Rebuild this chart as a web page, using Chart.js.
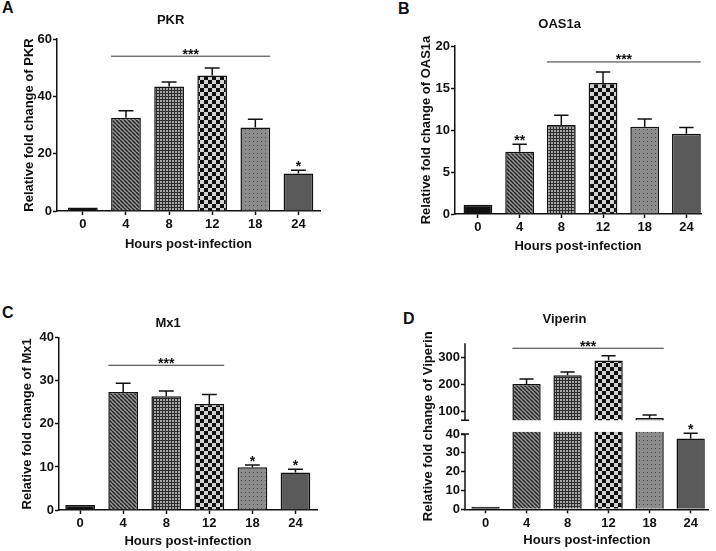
<!DOCTYPE html>
<html>
<head>
<meta charset="utf-8">
<script src="https://cdn.jsdelivr.net/npm/chart.js@4.4.0/dist/chart.umd.min.js"></script>
<style>
  body { margin: 0; background: #fff; width: 716px; height: 551px; position: relative; overflow: hidden;
         font-family: "Liberation Sans", Arial, sans-serif; }
  canvas { position: absolute; }
  .tag { position: absolute; font-weight: bold; font-size: 16px; line-height: 16px; color: #111; }
</style>
</head>
<body>
<div class="tag" style="left:2px;top:0px">A</div>
<div class="tag" style="left:398px;top:1px">B</div>
<div class="tag" style="left:2px;top:305px">C</div>
<div class="tag" style="left:403px;top:311px">D</div>
<canvas id="cA" width="358" height="275" style="left:0;top:0"></canvas>
<canvas id="cB" width="358" height="275" style="left:358px;top:0"></canvas>
<canvas id="cC" width="358" height="276" style="left:0;top:275px"></canvas>
<canvas id="cD" width="358" height="276" style="left:358px;top:275px"></canvas>
<script>
// data
const hours = ['0', '4', '8', '12', '18', '24'];

const pkr = [1.2, 32.5, 43.4, 47.3, 29.1, 13.1];
const pkrErr = [0, 2.5, 1.6, 2.6, 2.9, 1.1];

const oas1a = [1.1, 7.4, 10.6, 15.6, 10.4, 9.55];
const oas1aErr = [0, 0.9, 1.15, 1.3, 0.9, 0.75];

const mx1 = [1.15, 27.4, 26.4, 24.6, 9.9, 8.7];
const mx1Err = [0, 2.0, 1.2, 2.2, 0.55, 0.75];

const viperin = [1.3, 202, 235, 289, 76.5, 37.7];
const viperinErr = [0, 19, 12, 18, 11, 2.7];

// significance marks: bar line from..to at a value, and single stars above bars
const pkrSig = { from: 1, to: 4, at: 54, text: '***' };
const pkrStars = [[5, '*']];
const oas1aSig = { from: 2, to: 5, at: 18.1, text: '***' };
const oas1aStars = [[1, '**']];
const mx1Sig = { from: 1, to: 3, at: 33.6, text: '***' };
const mx1Stars = [[4, '*'], [5, '*']];
const viperinSig = { from: 1, to: 4, at: 334.6, text: '***' };
const viperinStars = [[5, '*']];

const FONT = "'Liberation Sans', Arial, sans-serif";
const INK = '#111';
Chart.defaults.font.family = FONT;
Chart.defaults.color = INK;

// bar fills
function makePattern(kind) {
    const c = document.createElement('canvas');
    const g = c.getContext('2d');
    if (kind === 'hatch') {
        c.width = c.height = 4;
        g.fillStyle = '#959595'; g.fillRect(0, 0, 4, 4);
        g.strokeStyle = '#262626'; g.lineWidth = 1.5;
        for (let k = -1; k <= 1; k++) {
            g.beginPath(); g.moveTo(0, k * 4); g.lineTo(4, 4 + k * 4); g.stroke();
        }
    } else if (kind === 'fine') {
        c.width = c.height = 3;
        g.fillStyle = '#a6a6a6'; g.fillRect(0, 0, 3, 3);
        g.fillStyle = '#2c2c2c'; g.fillRect(0, 0, 3, 1); g.fillRect(0, 0, 1, 3);
    } else if (kind === 'checker') {
        c.width = c.height = 8;
        g.fillStyle = '#d2d2d2'; g.fillRect(0, 0, 8, 8);
        g.fillStyle = '#111'; g.fillRect(0, 0, 4, 4); g.fillRect(4, 4, 4, 4);
    } else if (kind === 'dots') {
        c.width = c.height = 4;
        g.fillStyle = '#8c8c8c'; g.fillRect(0, 0, 4, 4);
        g.fillStyle = '#4a4a4a'; g.fillRect(1, 1, 1, 1);
    }
    return g.createPattern(c, 'repeat');
}
const fills = ['#111', makePattern('hatch'), makePattern('fine'), makePattern('checker'), makePattern('dots'), '#5a5a5a'];

function drawErrors(ctx, meta, yScale, vals, errs) {
    ctx.save();
    ctx.strokeStyle = INK; ctx.lineWidth = 1.5;
    meta.data.forEach((bar, i) => {
        if (!errs[i]) return;
        const w = bar.width * 0.5;
        const y0 = yScale.getPixelForValue(vals[i]);
        const y1 = yScale.getPixelForValue(vals[i] + errs[i]);
        ctx.beginPath();
        ctx.moveTo(bar.x, y0); ctx.lineTo(bar.x, y1);
        ctx.moveTo(bar.x - w / 2, y1); ctx.lineTo(bar.x + w / 2, y1);
        ctx.stroke();
    });
    ctx.restore();
}

function drawSig(ctx, meta, yScale, sig) {
    const a = meta.data[sig.from], b = meta.data[sig.to];
    const y = yScale.getPixelForValue(sig.at);
    ctx.save();
    ctx.strokeStyle = '#333'; ctx.lineWidth = 1;
    ctx.beginPath(); ctx.moveTo(a.x - a.width / 2, y); ctx.lineTo(b.x + b.width / 2, y); ctx.stroke();
    ctx.fillStyle = INK; ctx.font = 'bold 14px ' + FONT;
    ctx.textAlign = 'center'; ctx.textBaseline = 'alphabetic';
    ctx.fillText(sig.text, (a.x + b.x) / 2, y + 2.5);
    ctx.restore();
}

function drawStars(ctx, meta, yScale, vals, errs, stars) {
    ctx.save();
    ctx.fillStyle = INK; ctx.font = 'bold 14px ' + FONT;
    ctx.textAlign = 'center'; ctx.textBaseline = 'alphabetic';
    stars.forEach(([i, t]) => {
        ctx.fillText(t, meta.data[i].x, yScale.getPixelForValue(vals[i] + errs[i]) + 1);
    });
    ctx.restore();
}

const tickFont = { size: 13, weight: 'bold' };

function xScale(p, H) {
    return {
        type: 'linear', min: p.xMin, max: p.xMax, offset: false,
        afterFit: s => { s.height = H - p.bottom; },
        border: { display: true, color: INK, width: 1.5 },
        grid: { offset: false, drawOnChartArea: false, drawTicks: true, tickLength: 4, tickColor: INK, tickWidth: 1.5 },
        ticks: { stepSize: 1, includeBounds: false, autoSkip: false, padding: 2, font: tickFont, color: INK,
                 callback: v => hours[v] },
        title: { display: true, text: 'Hours post-infection', font: { size: 13, weight: 'bold' }, color: INK,
                 padding: { top: 0, bottom: H - p.xTitleY - 7.8 } }
    };
}

function commonOptions(p, W, H, title) {
    return {
        responsive: false,
        animation: false,
        layout: { padding: { left: p.yTitleX - 7.8, right: W - p.right, top: 0, bottom: 0 } },
        plugins: {
            legend: { display: false },
            tooltip: { enabled: false },
            title: { display: true, text: title, font: { size: 13, weight: 'bold' }, color: INK,
                     padding: { top: p.titleY - 7.8, bottom: p.top - p.titleY - 7.8 } }
        }
    };
}

function simplePanel(id, title, vals, errs, sig, stars, yMax, yStep, yTitle, p) {
    const cv = document.getElementById(id);
    const W = cv.width, H = cv.height;
    const opts = commonOptions(p, W, H, title);
    opts.scales = {
        x: xScale(p, H),
        y: {
            min: 0, max: yMax,
            afterFit: s => { s.width = p.axisX - (p.yTitleX - 7.8); },
            border: { display: true, color: INK, width: 1.5 },
            grid: { drawOnChartArea: false, drawTicks: true, tickLength: 4, tickColor: INK, tickWidth: 1.5 },
            ticks: { stepSize: yStep, autoSkip: false, padding: 1, font: tickFont, color: INK },
            title: { display: true, text: yTitle, font: { size: 13, weight: 'bold' }, color: INK,
                     padding: { top: 0, bottom: 0 } }
        }
    };
    return new Chart(cv, {
        type: 'bar',
        data: {
            datasets: [{
                data: vals.map((v, i) => ({ x: i, y: v })),
                backgroundColor: fills,
                borderColor: INK, borderWidth: 1.5,
                barPercentage: 0.69, categoryPercentage: 1
            }]
        },
        options: opts,
        plugins: [{
            id: 'marks',
            afterDatasetsDraw(chart) {
                const meta = chart.getDatasetMeta(0);
                const y = chart.scales.y;
                drawErrors(chart.ctx, meta, y, vals, errs);
                drawSig(chart.ctx, meta, y, sig);
                drawStars(chart.ctx, meta, y, vals, errs, stars);
            }
        }]
    });
}

simplePanel('cA', 'PKR', pkr, pkrErr, pkrSig, pkrStars, 60, 20, 'Relative fold change of PKR',
    { axisX: 57, top: 39, bottom: 211, right: 320, titleY: 20, yTitleX: 29, xTitleY: 244, xMin: -0.6, xMax: 5.5 });
simplePanel('cB', 'OAS1a', oas1a, oas1aErr, oas1aSig, oas1aStars, 20, 5, 'Relative fold change of OAS1a',
    { axisX: 97, top: 46, bottom: 214, right: 343, titleY: 24, yTitleX: 68, xTitleY: 246, xMin: -0.55, xMax: 5.35 });
simplePanel('cC', 'Mx1', mx1, mx1Err, mx1Sig, mx1Stars, 40, 10, 'Relative fold change of Mx1',
    { axisX: 59, top: 62.7, bottom: 235, right: 317, titleY: 48, yTitleX: 27, xTitleY: 266.7, xMin: -0.49, xMax: 5.5 });

// Viperin: broken y axis, two stacked scales
(function () {
    const p = { axisX: 107, top: 68.3, bottom: 234.3, right: 350.7, titleY: 44, yTitleX: 70, xTitleY: 265.7, xMin: -0.5, xMax: 5.44 };
    const lowMax = 41.2, lowTop = 40, highMin = 25, highMax = 353, breakAt = 68;
    const cv = document.getElementById('cD');
    const W = cv.width, H = cv.height;
    const opts = commonOptions(p, W, H, 'Viperin');
    const yCommon = {
        position: 'left', stack: 'v',
        afterFit: s => { s.width = p.axisX - (p.yTitleX - 7.8); },
        border: { display: false },
        grid: { drawOnChartArea: false, drawTicks: true, tickLength: 4, tickColor: INK, tickWidth: 1.5 },
        title: { display: false }
    };
    opts.scales = {
        x: xScale(p, H),
        yLow: Object.assign({}, yCommon, {
            min: 0, max: lowMax, stackWeight: 77.5,
            ticks: { stepSize: 10, includeBounds: false, autoSkip: false, padding: 1, font: tickFont, color: INK }
        }),
        yHigh: Object.assign({}, yCommon, {
            min: highMin, max: highMax, stackWeight: 88.5,
            ticks: { stepSize: 100, includeBounds: false, autoSkip: false, padding: 1, font: tickFont, color: INK }
        })
    };
    const ds = axis => ({
        data: viperin.map((v, i) => ({ x: i, y: v })),
        yAxisID: axis, grouped: false,
        backgroundColor: fills,
        borderColor: INK, borderWidth: 1.5,
        barPercentage: 0.69, categoryPercentage: 1
    });
    new Chart(cv, {
        type: 'bar',
        data: { datasets: [ds('yLow'), ds('yHigh')] },
        options: opts,
        plugins: [{
            id: 'broken',
            beforeDatasetDraw(chart, args) {
                const a = chart.chartArea, ctx = chart.ctx;
                const s = args.index === 0 ? chart.scales.yLow : chart.scales.yHigh;
                const bottom = args.index === 0 ? s.bottom : s.getPixelForValue(breakAt);
                ctx.save();
                ctx.beginPath();
                ctx.rect(a.left, s.top, a.right - a.left, bottom - s.top);
                ctx.clip();
            },
            afterDatasetDraw(chart, args) {
                const s = args.index === 0 ? chart.scales.yLow : chart.scales.yHigh;
                drawErrors(chart.ctx, args.meta, s, viperin, viperinErr);
                chart.ctx.restore();
            },
            afterDatasetsDraw(chart) {
                const ctx = chart.ctx, a = chart.chartArea;
                const lo = chart.scales.yLow, hi = chart.scales.yHigh;
                const meta = chart.getDatasetMeta(0);
                ctx.save();
                ctx.strokeStyle = INK; ctx.lineWidth = 1.5;
                const yl0 = lo.getPixelForValue(0), yl1 = lo.getPixelForValue(lowTop);
                const yh0 = hi.getPixelForValue(breakAt), yh1 = hi.top;
                ctx.beginPath();
                ctx.moveTo(a.left, yl0); ctx.lineTo(a.left, yl1);
                ctx.moveTo(a.left - 4, yl1); ctx.lineTo(a.left + 4, yl1);
                ctx.moveTo(a.left, yh0); ctx.lineTo(a.left, yh1);
                ctx.moveTo(a.left - 4, yh0); ctx.lineTo(a.left + 4, yh0);
                ctx.stroke();
                ctx.restore();
                drawSig(ctx, chart.getDatasetMeta(1), hi, viperinSig);
                drawStars(ctx, meta, lo, viperin, viperinErr, viperinStars);
                // y axis title across both segments
                ctx.save();
                ctx.fillStyle = INK; ctx.font = 'bold 13px ' + FONT;
                ctx.textAlign = 'center'; ctx.textBaseline = 'middle';
                ctx.translate(p.yTitleX, (a.top + a.bottom) / 2);
                ctx.rotate(-Math.PI / 2);
                ctx.fillText('Relative fold change of Viperin', 0, 0);
                ctx.restore();
            }
        }]
    });
})();
</script>
</body>
</html>
